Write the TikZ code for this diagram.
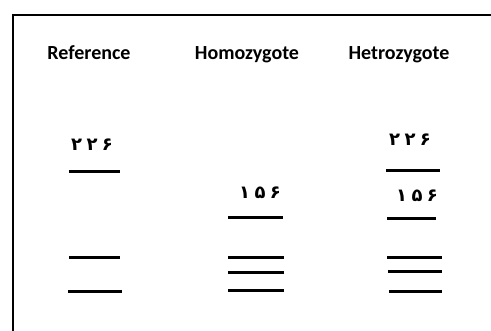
\documentclass[tikz,border=0pt]{standalone}
\usepackage{fontspec}
\setmainfont{Carlito}
\newfontfamily\fadigits{DejaVu Sans}[LetterSpace=25]
\begin{document}
\begin{tikzpicture}[x=1pt,y=-1pt,
  band/.style={line width=3pt},
  title/.style={font=\bfseries\fontsize{20}{23}\selectfont, inner sep=0pt, anchor=base},
  size/.style={font=\fadigits\bfseries\fontsize{18}{20}\selectfont, inner sep=0pt}]
\useasboundingbox (0,0) rectangle (491,331);
\draw[line width=1.3pt] (13,340) -- (13,15) -- (500,15);
% titles
\node[title] (t1) at (89,60) {Reference};
\node[title] (t2) at (247,60) {Homozygote};
\node[title] (t3) at (399,60) {Hetrozygote};
% size labels
\node[size] (s1) at (92,145) {۲۲۶};
\node[size] (s2) at (260,193) {۱۵۶};
\node[size] (s3) at (410,140) {۲۲۶};
\node[size] (s4) at (417,196) {۱۵۶};
% Reference lane
\coordinate (r1a) at (69,172); \coordinate (r1b) at (120,172);
\coordinate (r2a) at (69,258); \coordinate (r2b) at (120,258);
\coordinate (r3a) at (68,292); \coordinate (r3b) at (122,292);
\draw[band] (r1a) -- (r1b);
\draw[band] (r2a) -- (r2b);
\draw[band] (r3a) -- (r3b);
% Homozygote lane
\coordinate (h1a) at (228,218); \coordinate (h1b) at (283,218);
\coordinate (h2a) at (228,258); \coordinate (h2b) at (284,258);
\coordinate (h3a) at (228,273); \coordinate (h3b) at (284,273);
\coordinate (h4a) at (228,291); \coordinate (h4b) at (284,291);
\draw[band] (h1a) -- (h1b);
\draw[band] (h2a) -- (h2b);
\draw[band] (h3a) -- (h3b);
\draw[band] (h4a) -- (h4b);
% Hetrozygote lane
\coordinate (e1a) at (386,171); \coordinate (e1b) at (440,171);
\coordinate (e2a) at (387,219); \coordinate (e2b) at (436,219);
\coordinate (e3a) at (387,258); \coordinate (e3b) at (442,258);
\coordinate (e4a) at (388,272); \coordinate (e4b) at (442,272);
\coordinate (e5a) at (389,292); \coordinate (e5b) at (442,292);
\draw[band] (e1a) -- (e1b);
\draw[band] (e2a) -- (e2b);
\draw[band] (e3a) -- (e3b);
\draw[band] (e4a) -- (e4b);
\draw[band] (e5a) -- (e5b);
\end{tikzpicture}
\end{document}
